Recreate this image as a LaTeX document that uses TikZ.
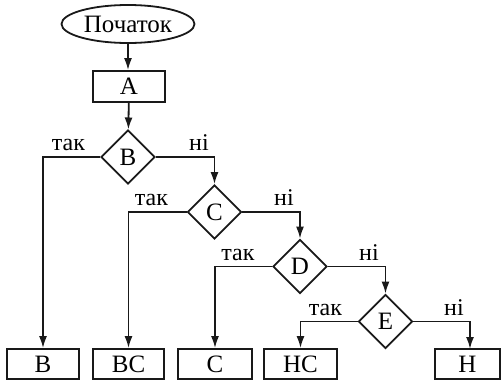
\documentclass[tikz,border=0pt]{standalone}
\usepackage{fontspec}
\setmainfont{Liberation Serif}
\usetikzlibrary{shapes.geometric,arrows.meta}
\begin{document}
\begin{tikzpicture}[x=1pt,y=-1pt,
  every node/.style={font=\fontsize{25}{27}\selectfont, inner sep=0pt},
  line/.style={line width=1.8pt, draw=black!90},
  flow/.style={line, -{Latex[length=12pt,width=8pt]}},
  procbox/.style={line, rectangle, minimum height=30pt},
  decide/.style={line, diamond, aspect=1, minimum width=54pt, minimum height=54pt},
  lbl/.style={anchor=base, font=\fontsize{24}{26}\selectfont}]
\useasboundingbox (0,0) rectangle (501,380);
\node[line, ellipse, minimum width=133pt, minimum height=38pt] (start) at (128,24) {Початок};
\node[procbox, minimum width=72pt, minimum height=31pt] (A) at (129,86.5) {A};
\node[decide] (dB) at (128,157) {B};
\node[decide] (dC) at (214.5,212) {C};
\node[decide] (dD) at (300,266.5) {D};
\node[decide] (dE) at (385.5,321.5) {E};
\node[procbox, minimum width=72pt] (bB) at (43,364) {B};
\node[procbox, minimum width=71pt] (bBC) at (128.5,364) {BC};
\node[procbox, minimum width=74pt] (bC) at (215,364) {C};
\node[procbox, minimum width=73pt] (bHC) at (300.5,364) {HC};
\node[procbox, minimum width=65pt] (bH) at (467.5,364) {H};
\coordinate (hin) at (470,349);
\draw[flow] (start) -- (start |- A.north);
\draw[flow] (A) -- (dB);
\draw[flow] (dB.west) -| (bB.north);
\draw[flow] (dB.east) -| (dC.north);
\draw[flow] (dC.west) -| (bBC.north);
\draw[flow] (dC.east) -| (dD.north);
\draw[flow] (dD.west) -| (bC.north);
\draw[flow] (dD.east) -| (dE.north);
\draw[flow] (dE.west) -| (bHC.north);
\draw[flow] (dE.east) -| (hin);
\node[lbl] (tB) at (68.5,150) {так};
\node[lbl] (nB) at (199,150) {ні};
\node[lbl] (tC) at (151.5,205) {так};
\node[lbl] (nC) at (284,205) {ні};
\node[lbl] (tD) at (238,260) {так};
\node[lbl] (nD) at (369,260) {ні};
\node[lbl] (tE) at (325.5,315) {так};
\node[lbl] (nE) at (454,315) {ні};
\end{tikzpicture}
\end{document}
